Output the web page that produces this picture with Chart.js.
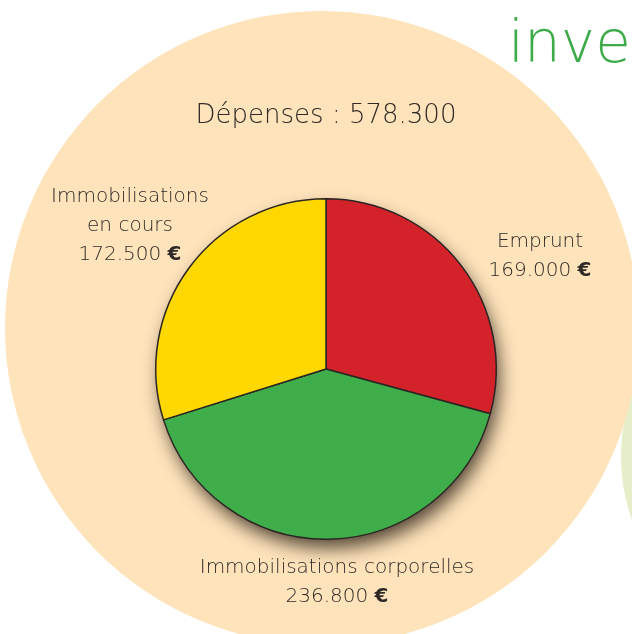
<!DOCTYPE html>
<html lang="fr">
<head>
<meta charset="UTF-8" />
<title>Dépenses d'investissement</title>
<style>
  html, body { margin: 0; padding: 0; background: #ffffff; }
  #wrap { width: 632px; height: 634px; position: relative; }
</style>
</head>
<body>
<div id="wrap"><canvas id="pie" width="632" height="634"></canvas></div>

<script src="https://cdn.jsdelivr.net/npm/chart.js"></script>
<script>
// données
const categories = ['Emprunt', 'Immobilisations corporelles', 'Immobilisations en cours'];
const values = [169000, 236800, 172500];
const valueLabels = ['169.000', '236.800', '172.500'];
const titleText = 'Dépenses : 578.300';
const colors = ['#d3222a', '#3fae4a', '#fed800'];

// lignes des étiquettes (nom coupé comme dans l'original)
const labelLines = [['Emprunt'], ['Immobilisations corporelles'], ['Immobilisations', 'en cours']];
// ancre de chaque étiquette par rapport au centre du camembert (px)
const labelAnchor = [[214, -127], [11, 199], [-196, -172]];

const textColor = '#2f2a27';
const lightFont = '200 20px "DejaVu Sans", sans-serif';
const boldFont = 'bold 20px "DejaVu Sans", sans-serif';

const decor = {
  id: 'decor',
  beforeDraw(chart) {
    const ctx = chart.ctx;
    const arc = chart.getDatasetMeta(0).data[0];
    const cx = arc.x, cy = arc.y;
    ctx.save();
    // cercle vert pâle à droite
    ctx.fillStyle = '#e6eec9';
    ctx.beginPath();
    ctx.arc(cx + 490, cy + 87, 195, 0, Math.PI * 2);
    ctx.fill();
    // grand disque pêche
    ctx.fillStyle = '#fee3bb';
    ctx.beginPath();
    ctx.arc(cx - 4, cy - 41, 317, 0, Math.PI * 2);
    ctx.fill();
    // "inve"
    ctx.fillStyle = '#3dab47';
    ctx.font = '200 58px "DejaVu Sans", sans-serif';
    ctx.textAlign = 'left';
    ctx.textBaseline = 'alphabetic';
    ctx.fillText('inve', 508, 62);
    // titre
    ctx.fillStyle = textColor;
    ctx.font = '200 26px "DejaVu Sans", sans-serif';
    ctx.textAlign = 'center';
    ctx.textBaseline = 'middle';
    ctx.fillText(titleText, cx + 0, cy - 253);
    ctx.restore();
  },
  beforeDatasetsDraw(chart) {
    const ctx = chart.ctx;
    const arc = chart.getDatasetMeta(0).data[0];
    ctx.save();
    ctx.shadowColor = 'rgba(40,30,20,0.8)';
    ctx.shadowBlur = 18;
    ctx.shadowOffsetX = 4;
    ctx.shadowOffsetY = 10;
    ctx.fillStyle = '#222';
    ctx.beginPath();
    ctx.arc(arc.x, arc.y, arc.outerRadius - 1, 0, Math.PI * 2);
    ctx.fill();
    ctx.restore();
  },
  afterDatasetsDraw(chart) {
    const ctx = chart.ctx;
    const meta = chart.getDatasetMeta(0);
    ctx.save();
    ctx.fillStyle = textColor;
    ctx.textBaseline = 'middle';
    meta.data.forEach((arc, i) => {
      const ax = arc.x + labelAnchor[i][0];
      let y = arc.y + labelAnchor[i][1];
      ctx.textAlign = 'center';
      ctx.font = lightFont;
      labelLines[i].forEach(line => {
        ctx.fillText(line, ax, y);
        y += 29;
      });
      // montant + € en gras
      ctx.font = lightFont;
      const num = valueLabels[i] + ' ';
      const wNum = ctx.measureText(num).width;
      ctx.font = boldFont;
      const wEur = ctx.measureText('€').width;
      let x = ax - (wNum + wEur) / 2;
      ctx.textAlign = 'left';
      ctx.font = lightFont;
      ctx.fillText(num, x, y);
      ctx.font = boldFont;
      ctx.fillText('€', x + wNum, y);
    });
    ctx.restore();
  }
};

new Chart(document.getElementById('pie').getContext('2d'), {
  type: 'pie',
  data: {
    labels: categories,
    datasets: [{
      data: values,
      backgroundColor: colors,
      borderColor: '#2b2623',
      borderWidth: 1.5
    }]
  },
  options: {
    responsive: false,
    animation: false,
    layout: { padding: { left: 155, right: 135, top: 198, bottom: 94 } },
    plugins: {
      legend: { display: false },
      tooltip: { enabled: false }
    }
  },
  plugins: [decor]
});
</script>
</body>
</html>
